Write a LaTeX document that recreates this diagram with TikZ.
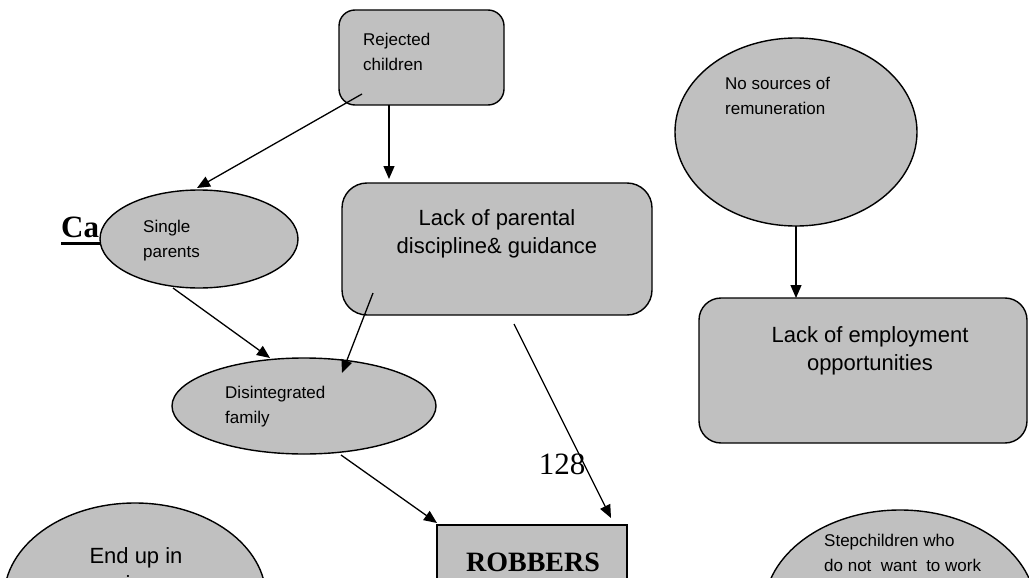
\documentclass[tikz,border=0pt]{standalone}
\usepackage{fontspec}
\setmainfont{Liberation Sans}
\newfontfamily\serifface{Liberation Serif}
\usetikzlibrary{shapes.geometric,arrows.meta}
\definecolor{boxgray}{RGB}{192,192,192}
\tikzset{
  shapebox/.style={draw=black, line width=1.4pt, fill=boxgray, inner sep=0pt},
  roundbox/.style={shapebox, rectangle, rounded corners=#1},
  oval/.style={shapebox, ellipse},
  link/.style={line width=1.3pt, -{Triangle[length=13pt,width=11pt]}},
  smalltext/.style={inner sep=0pt, align=left, font=\fontsize{17}{25}\selectfont},
  bigtext/.style={inner sep=0pt, align=center, font=\fontsize{22}{28}\selectfont},
}
\begin{document}
\begin{tikzpicture}[x=1pt, y=-1pt]
\useasboundingbox (0,0) rectangle (1029,578);
\clip (0,0) rectangle (1029,578);
\fill[white] (0,0) rectangle (1029,578);

% heading, partly hidden behind the first ellipse
\node[anchor=base west, inner sep=0pt, font=\serifface\bfseries\fontsize{31}{31}\selectfont] (ca) at (61,237) {Ca};
\draw[line width=3pt] ([yshift=-6pt]ca.base west) -- ++(90,0);

% shapes
\node[roundbox=16pt, minimum width=165pt, minimum height=95pt] (rej) at (421.5,57.5) {};
\node[roundbox=25pt, minimum width=310pt, minimum height=132pt] (lack) at (497,249) {};
\node[oval, minimum width=198pt, minimum height=98pt] (single) at (199,239) {};
\node[oval, minimum width=264pt, minimum height=96pt] (dis) at (304,406) {};
\node[oval, minimum width=242pt, minimum height=188pt] (nosrc) at (796,132) {};
\node[roundbox=22pt, minimum width=328pt, minimum height=145pt] (emp) at (863,370.5) {};
\node[shapebox, rectangle, minimum width=190pt, minimum height=100pt] (rob) at (532,575) {};
\node[oval, minimum width=262pt, minimum height=190pt] (endup) at (135,598) {};
\node[oval, minimum width=272pt, minimum height=200pt] (step) at (900,610) {};

% texts
\node[smalltext, anchor=north west] (tRej) at (363,32.6) {Rejected\\children};
\node[bigtext, anchor=north] (tLack) at (497,209) {Lack of parental\\discipline\& guidance};
\node[smalltext, anchor=north west] (tSingle) at (143,219.6) {Single\\parents};
\node[smalltext, anchor=north west] (tDis) at (225,385.6) {Disintegrated\\family};
\node[smalltext, anchor=north west] (tNo) at (725,76.6) {No sources of\\remuneration};
\node[bigtext, anchor=north] (tEmp) at (870,326) {Lack of employment\\opportunities};
\node[anchor=base, inner sep=0pt, font=\serifface\bfseries\fontsize{28}{28}\selectfont] (tRob) at (533,571) {ROBBERS};
\node[bigtext, anchor=north] (tEnd) at (136,547) {End up in\\prison};
\node[smalltext, anchor=north west] (tStep) at (824,533.6) {Stepchildren who\\do not\ \ want\ \ to work};
\node[anchor=base, inner sep=0pt, font=\serifface\fontsize{31}{31}\selectfont] (page) at (562,474) {128};

% connector end points
\coordinate (r1) at (362,94);   \coordinate (s1) at (197,188);
\coordinate (r2) at (389,105);  \coordinate (l2) at (389,179);
\coordinate (s3) at (173,288);  \coordinate (d3) at (270,358);
\coordinate (l4) at (373,293);  \coordinate (d4) at (342,373);
\coordinate (l5) at (514,324);  \coordinate (b5) at (611,518);
\coordinate (d6) at (341,455);  \coordinate (b6) at (437,523);
\coordinate (n7) at (796,226);  \coordinate (e7) at (796,298);

% connectors
\draw[link] (r1) -- (s1);
\draw[link] (r2) -- (l2);
\draw[link] (s3) -- (d3);
\draw[link] (l4) -- (d4);
\draw[link] (l5) -- (b5);
\draw[link] (d6) -- (b6);
\draw[link] (n7) -- (e7);
\end{tikzpicture}
\end{document}
